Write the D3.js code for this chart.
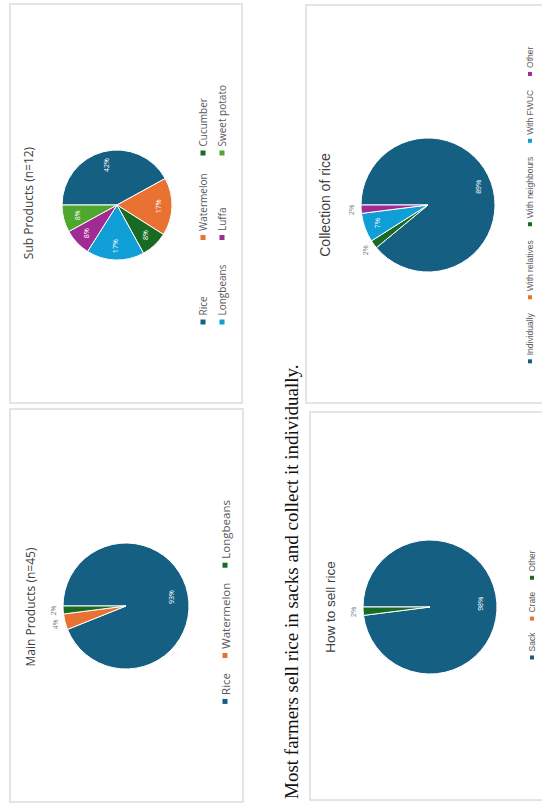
<!DOCTYPE html>
<html>
<head>
<meta charset="utf-8">
<script src="https://cdn.jsdelivr.net/npm/d3@7"></script>
<style>
  html, body { margin: 0; padding: 0; background: #fff; }
  svg { display: block; }
</style>
</head>
<body>
<script>
// ---------- data ----------
const palette = ["#156082", "#E97132", "#196B24", "#0F9ED5", "#A02B93", "#4EA72E"];

const mainCats = ["Rice", "Watermelon", "Longbeans"];
const mainVals = [93, 4, 2];

const subCats = ["Rice", "Watermelon", "Cucumber", "Longbeans", "Luffa", "Sweet potato"];
const subVals = [42, 17, 8, 17, 8, 8];

const sellCats = ["Sack", "Crate", "Other"];
const sellVals = [98, 0, 2];

const collCats = ["Individually", "With relatives", "With neighbours", "With FWUC", "Other"];
const collVals = [89, 0, 2, 7, 2];

const caption = "Most farmers sell rice in sacks and collect it individually.";

// ---------- page (drawn in reading orientation, then rotated) ----------
const PW = 807; // reading width
const svg = d3.select("body").append("svg").attr("width", 542).attr("height", 807);
svg.append("rect").attr("width", 542).attr("height", 807).attr("fill", "#fff");
const page = svg.append("g").attr("transform", `translate(0,${PW}) rotate(-90)`);

// panels
const panels = [
  { x: 5, y: 10, w: 393, h: 233 },
  { x: 404, y: 10, w: 399, h: 232 },
  { x: 404, y: 306, w: 398, h: 300 },
  { x: 7, y: 310, w: 388, h: 300 }
];
page.selectAll("rect.panel").data(panels).join("rect")
  .attr("class", "panel")
  .attr("x", d => d.x).attr("y", d => d.y)
  .attr("width", d => d.w).attr("height", d => d.h)
  .attr("fill", "#fff").attr("stroke", "#dcdcdc").attr("stroke-width", 1.5);

// caption
page.append("text")
  .attr("x", 8).attr("y", 298)
  .attr("font-family", "'Liberation Serif', 'Times New Roman', serif")
  .attr("font-size", 19).attr("fill", "#111")
  .text(caption);

function drawPie(cfg) {
  const g = page.append("g");
  const color = d3.scaleOrdinal().domain(cfg.cats).range(palette);
  const pie = d3.pie().sort(null).value(d => d.v);
  const data = cfg.cats.map((c, i) => ({ c, v: cfg.vals[i] }));
  const arcs = pie(data);
  const arc = d3.arc().innerRadius(0).outerRadius(cfg.r);
  const pg = g.append("g").attr("transform", `translate(${cfg.cx},${cfg.cy})`);
  pg.selectAll("path").data(arcs.filter(a => a.data.v > 0)).join("path")
    .attr("d", arc)
    .attr("fill", d => color(d.data.c))
    .attr("stroke", "#fff").attr("stroke-width", 1);

  // labels
  arcs.filter(a => a.data.v > 0).forEach(a => {
    const mid = (a.startAngle + a.endAngle) / 2;
    const inside = a.data.v >= 5;
    const rr = inside ? cfg.r * cfg.lf : cfg.r + 10;
    const x = Math.sin(mid) * rr, y = -Math.cos(mid) * rr;
    pg.append("text")
      .attr("x", x).attr("y", y)
      .attr("text-anchor", "middle").attr("dominant-baseline", "central")
      .attr("font-family", cfg.font).attr("font-size", 7)
      .attr("fill", inside ? "#fff" : "#7f7f7f")
      .text(a.data.v + "%");
  });

  // title
  g.append("text")
    .attr("x", cfg.tx).attr("y", cfg.ty)
    .attr("text-anchor", "middle").attr("dominant-baseline", "central")
    .attr("font-family", cfg.font).attr("font-size", cfg.tsize).attr("fill", "#404040")
    .text(cfg.title);

  // legend
  const lg = g.append("g");
  const ms = cfg.msize;
  if (cfg.cols) {
    cfg.cats.forEach((c, i) => {
      const col = i % cfg.cols, row = Math.floor(i / cfg.cols);
      const x = cfg.lx + col * cfg.colW, y = cfg.ly + row * cfg.rowH;
      lg.append("rect").attr("x", x - ms / 2).attr("y", y - ms / 2)
        .attr("width", ms).attr("height", ms).attr("fill", color(c));
      lg.append("text").attr("x", x + ms / 2 + 4).attr("y", y)
        .attr("dominant-baseline", "central")
        .attr("font-family", cfg.font).attr("font-size", cfg.lsize).attr("fill", "#595959")
        .text(c);
    });
  } else {
    const items = cfg.cats.map(c => {
      const ig = lg.append("g");
      ig.append("rect").attr("x", 0).attr("y", -ms / 2).attr("width", ms).attr("height", ms)
        .attr("fill", color(c));
      const t = ig.append("text").attr("x", ms + 4).attr("y", 0)
        .attr("dominant-baseline", "central")
        .attr("font-family", cfg.font).attr("font-size", cfg.lsize).attr("fill", "#595959")
        .text(c);
      return { ig, w: ms + 4 + t.node().getComputedTextLength() };
    });
    const gap = cfg.lgap;
    const total = d3.sum(items, d => d.w) + gap * (items.length - 1);
    let x = cfg.lx - total / 2;
    items.forEach(it => {
      it.ig.attr("transform", `translate(${x},${cfg.ly})`);
      x += it.w + gap;
    });
  }
}

const topFont = "'Open Sans', 'Noto Sans', sans-serif";
const botFont = "'Liberation Sans', Arial, sans-serif";

drawPie({
  cats: mainCats, vals: mainVals, cx: 201, cy: 126, r: 63, lf: 0.74,
  title: "Main Products (n=45)", tx: 200, ty: 30, tsize: 12, font: topFont,
  lx: 205, ly: 225, lsize: 11.5, msize: 5, lgap: 15
});

drawPie({
  cats: subCats, vals: subVals, cx: 602, cy: 117, r: 55, lf: 0.75,
  title: "Sub Products (n=12)", tx: 604, ty: 28, tsize: 12, font: topFont,
  cols: 3, lx: 485, ly: 203, colW: 84.5, rowH: 19, lsize: 10, msize: 5
});

drawPie({
  cats: sellCats, vals: sellVals, cx: 200, cy: 430, r: 67, lf: 0.75,
  title: "How to sell rice", tx: 200, ty: 330, tsize: 13.5, font: botFont,
  lx: 202, ly: 532, lsize: 8.5, msize: 4, lgap: 12
});

drawPie({
  cats: collCats, vals: collVals, cx: 602, cy: 428, r: 67, lf: 0.8,
  title: "Collection of rice", tx: 602, ty: 325, tsize: 14, font: botFont,
  lx: 602, ly: 530, lsize: 8.5, msize: 4, lgap: 14
});
</script>
</body>
</html>
